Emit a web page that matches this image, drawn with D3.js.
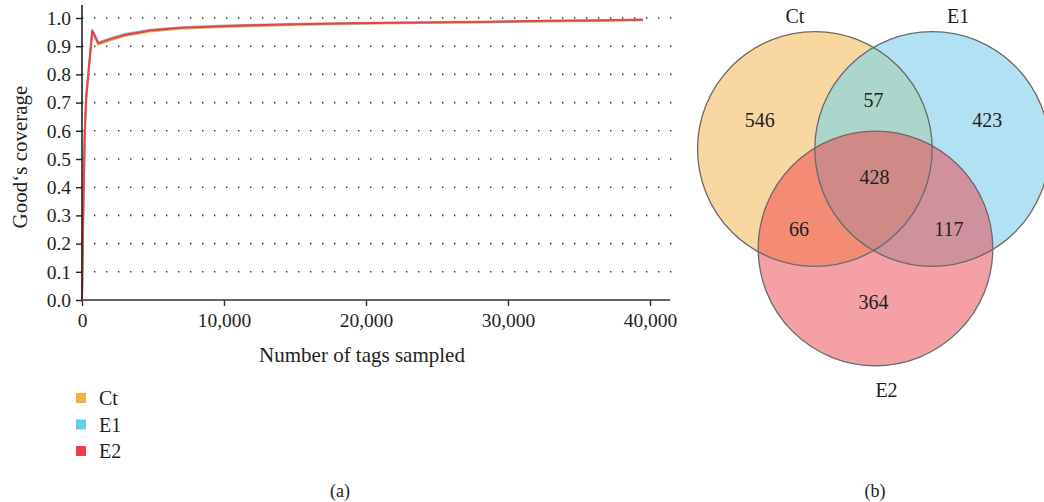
<!DOCTYPE html>
<html>
<head>
<meta charset="utf-8">
<script src="https://cdn.jsdelivr.net/npm/d3@7"></script>
<style>
  html, body { margin: 0; padding: 0; background: #fff; }
  svg { display: block; font-family: "Liberation Serif", "DejaVu Serif", serif; }
</style>
</head>
<body>
<svg id="fig" width="1044" height="502"></svg>
<script>
// ---- Rarefaction data: Good's coverage vs. number of tags sampled ----
const samples = ["Ct", "E1", "E2"];
const sampleColors = ["#f0b33f", "#63cdec", "#ef3e4a"];
const tagsSampled = [0, 100, 200, 300, 725, 1150, 2000, 3000, 4800, 7000, 10000, 12000, 15000, 19000, 24000, 28000, 32000, 36000, 39500];
const coverageCt = [0, 0.34, 0.59, 0.71, 0.950, 0.906, 0.921, 0.936, 0.952, 0.962, 0.968, 0.971, 0.975, 0.979, 0.982, 0.984, 0.987, 0.989, 0.992];
const coverageE1 = [0, 0.36, 0.61, 0.73, 0.958, 0.913, 0.928, 0.943, 0.958, 0.967, 0.973, 0.976, 0.979, 0.982, 0.985, 0.987, 0.990, 0.992, 0.995];
const coverageE2 = [0, 0.35, 0.60, 0.72, 0.955, 0.910, 0.925, 0.940, 0.956, 0.965, 0.971, 0.974, 0.978, 0.981, 0.984, 0.986, 0.989, 0.991, 0.994];
const yTicks = [0, 0.1, 0.2, 0.3, 0.4, 0.5, 0.6, 0.7, 0.8, 0.9, 1.0];
const xTicks = [0, 10000, 20000, 30000, 40000];

// ---- Venn counts of shared / unique OTUs ----
const vennSets = ["Ct", "E1", "E2"];
const vennRegions = ["Ct", "E1", "E2", "Ct&E1", "Ct&E2", "E1&E2", "Ct&E1&E2"];
const vennCounts = [546, 423, 364, 57, 66, 117, 428];
const vennColors = ["#f8d7a0", "#b2e1f3", "#f4a0a5", "#abd6cb", "#f48b74", "#cf919d", "#cf8a87"];

const svg = d3.select("#fig");
const series = [coverageCt, coverageE1, coverageE2];
const textColor = "#231f20";

// ================= Panel (a) =================
const plot = { left: 82, right: 670, top: 18, bottom: 300 };
const x = d3.scaleLinear().domain([0, 40000]).range([plot.left, plot.left + 568]);
const y = d3.scaleLinear().domain([0, 1]).range([plot.bottom, plot.top]);

const gA = svg.append("g");

// dotted horizontal gridlines
gA.append("g").selectAll("line").data(yTicks.filter(d => d > 0)).join("line")
  .attr("x1", plot.left).attr("x2", plot.right + 2)
  .attr("y1", d => y(d)).attr("y2", d => y(d))
  .attr("stroke", "#333").attr("stroke-width", 1.6)
  .attr("stroke-dasharray", "1.4,10.6");

// curves
const line = d3.line().x((d, i) => x(tagsSampled[i])).y(d => y(d));
gA.append("g").selectAll("path").data(series).join("path")
  .attr("d", d => line(d))
  .attr("fill", "none")
  .attr("stroke", (d, i) => sampleColors[i])
  .attr("stroke-width", 2)
  .attr("stroke-linejoin", "round");

// y axis
const yAxis = d3.axisLeft(y).tickValues(yTicks).tickFormat(d3.format(".1f")).tickSize(6).tickPadding(5);
const gy = gA.append("g").attr("transform", `translate(${plot.left},0)`).call(yAxis);
gy.select(".domain").attr("d", `M0,${plot.bottom}V5`).attr("stroke", "#222").attr("stroke-width", 1.6);
gy.selectAll(".tick line").attr("stroke", "#222").attr("stroke-width", 1.4);
gy.selectAll("text").attr("font-size", 19.5).attr("fill", textColor)
  .attr("font-family", "Liberation Serif, serif");

// x axis
const xAxis = d3.axisBottom(x).tickValues(xTicks).tickFormat(d3.format(",")).tickSize(6).tickPadding(7);
const gx = gA.append("g").attr("transform", `translate(0,${plot.bottom})`).call(xAxis);
gx.select(".domain").attr("d", `M${plot.left},0H${plot.right}`).attr("stroke", "#666").attr("stroke-width", 2.2);
gx.selectAll(".tick line").attr("stroke", "#333").attr("stroke-width", 1.4);
gx.selectAll("text").attr("font-size", 19.5).attr("fill", textColor)
  .attr("font-family", "Liberation Serif, serif");

// axis titles
gA.append("text").attr("x", 362).attr("y", 362).attr("text-anchor", "middle")
  .attr("font-size", 21).attr("fill", textColor).text("Number of tags sampled");
gA.append("text").attr("transform", "translate(27,157) rotate(-90)").attr("text-anchor", "middle")
  .attr("font-size", 21).attr("fill", textColor).text("Good\u2018s coverage");

// legend
const legend = gA.append("g").attr("transform", "translate(76,393)");
const li = legend.selectAll("g").data(samples).join("g")
  .attr("transform", (d, i) => `translate(0,${i * 26.5})`);
li.append("rect").attr("width", 10).attr("height", 10).attr("fill", (d, i) => sampleColors[i]);
li.append("text").attr("x", 23).attr("y", 12).attr("font-size", 20).attr("fill", textColor).text(d => d);

// panel caption
svg.append("text").attr("x", 340).attr("y", 497).attr("text-anchor", "middle")
  .attr("font-size", 18).attr("fill", textColor).text("(a)");

// ================= Panel (b) =================
const r = 117.3;
const vc = { x: 873.5, y: 149 };
const centers = [
  { x: vc.x - r / 2, y: vc.y },
  { x: vc.x + r / 2, y: vc.y },
  { x: vc.x + 2, y: vc.y + 0.848 * r }
];

const gB = svg.append("g");
const defs = svg.append("defs");
centers.forEach((c, i) => {
  defs.append("clipPath").attr("id", "clip-" + vennSets[i])
    .append("circle").attr("cx", c.x).attr("cy", c.y).attr("r", r);
});

function circleFill(parent, idx, color) {
  return parent.append("circle").attr("cx", centers[idx].x).attr("cy", centers[idx].y)
    .attr("r", r).attr("fill", color);
}

// single sets
vennSets.forEach((s, i) => circleFill(gB, i, vennColors[i]));
// pairwise overlaps
circleFill(gB.append("g").attr("clip-path", "url(#clip-Ct)"), 1, vennColors[3]);
circleFill(gB.append("g").attr("clip-path", "url(#clip-Ct)"), 2, vennColors[4]);
circleFill(gB.append("g").attr("clip-path", "url(#clip-E1)"), 2, vennColors[5]);
// triple overlap
circleFill(gB.append("g").attr("clip-path", "url(#clip-Ct)").append("g").attr("clip-path", "url(#clip-E1)"), 2, vennColors[6]);

// outlines
gB.selectAll("circle.outline").data(centers).join("circle").attr("class", "outline")
  .attr("cx", d => d.x).attr("cy", d => d.y).attr("r", r)
  .attr("fill", "none").attr("stroke", "#6a6a6a").attr("stroke-width", 1.3);

// set names
const setLabelPos = [
  { x: centers[0].x - 20, y: 23 },
  { x: centers[1].x + 26, y: 23 },
  { x: centers[2].x + 11, y: 397 }
];
gB.selectAll("text.set").data(vennSets).join("text").attr("class", "set")
  .attr("x", (d, i) => setLabelPos[i].x).attr("y", (d, i) => setLabelPos[i].y)
  .attr("text-anchor", "middle").attr("font-size", 20).attr("fill", textColor).text(d => d);

// region counts
const regionPos = [
  { x: centers[0].x - 55, y: 127 },
  { x: centers[1].x + 55, y: 127 },
  { x: centers[2].x - 2, y: 309 },
  { x: vc.x, y: 107 },
  { x: 799, y: 236 },
  { x: 949, y: 236 },
  { x: vc.x + 1, y: 184 }
];
gB.selectAll("text.count").data(vennCounts).join("text").attr("class", "count")
  .attr("x", (d, i) => regionPos[i].x).attr("y", (d, i) => regionPos[i].y)
  .attr("text-anchor", "middle").attr("font-size", 20).attr("fill", textColor).text(d => d);

svg.append("text").attr("x", 875).attr("y", 497).attr("text-anchor", "middle")
  .attr("font-size", 18).attr("fill", textColor).text("(b)");
</script>
</body>
</html>
